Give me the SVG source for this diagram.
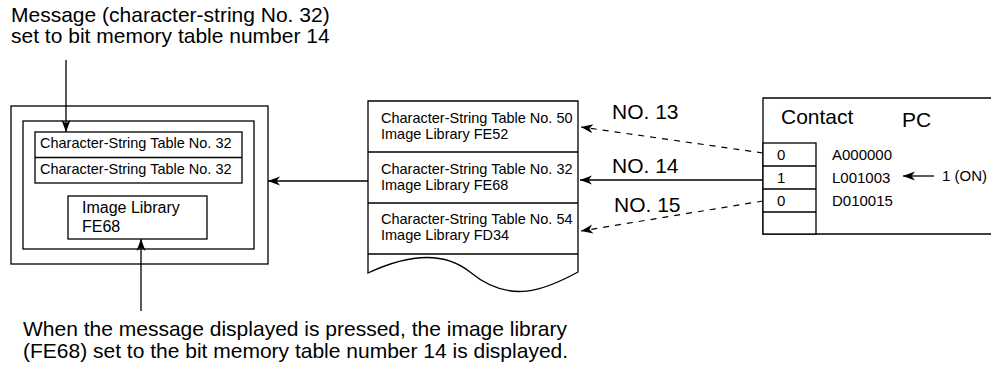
<svg xmlns="http://www.w3.org/2000/svg" width="991" height="372" viewBox="0 0 991 372">
<defs>
<marker id="ah" markerWidth="14" markerHeight="12" refX="12" refY="6" orient="auto" markerUnits="userSpaceOnUse">
<path d="M0,1.5 L12,6 L0,10.5 L3.5,6 z" fill="#000"/>
</marker>
<style>
.t{font-family:"Liberation Sans",Arial,Helvetica,sans-serif;fill:#000}
.big{font-size:21px}
.tab{font-size:14.5px}
.cell{font-size:15px}
.box{fill:#fff;stroke:#000;stroke-width:1.3}
.ln{fill:none;stroke:#000;stroke-width:1.3}
.dash{fill:none;stroke:#000;stroke-width:1.2;stroke-dasharray:6 6}
</style>
</defs>
<rect width="991" height="372" fill="#fff"/>

<g id="note-top">
<text class="t big" x="11" y="22">Message (character-string No. 32)</text>
<text class="t big" x="11" y="43">set to bit memory table number 14</text>
</g>

<g id="screen">
<rect class="box" x="11" y="106" width="257" height="158"/>
<rect class="box" x="23" y="121" width="231" height="128"/>
<rect class="box" x="35" y="132" width="207" height="51"/>
<line class="ln" x1="35" y1="157.5" x2="242" y2="157.5"/>
<text class="t tab" x="40" y="148">Character-String Table No. 32</text>
<text class="t tab" x="40" y="173.5">Character-String Table No. 32</text>
<rect class="box" x="68" y="196" width="139" height="43"/>
<text class="t" style="font-size:16px" x="82" y="213">Image Library</text>
<text class="t" style="font-size:16px" x="82" y="232">FE68</text>
</g>

<g id="table">
<path class="box" d="M368,101 H578 V272 C545,290 510,305 470,272 C440,248 400,258 368,273 Z"/>
<line class="ln" x1="368" y1="152" x2="578" y2="152"/>
<line class="ln" x1="368" y1="203" x2="578" y2="203"/>
<line class="ln" x1="368" y1="254" x2="578" y2="254"/>
<text class="t tab" x="381" y="123">Character-String Table No. 50</text>
<text class="t tab" x="381" y="139">Image Library FE52</text>
<text class="t tab" x="381" y="174">Character-String Table No. 32</text>
<text class="t tab" x="381" y="190">Image Library FE68</text>
<text class="t tab" x="381" y="224">Character-String Table No. 54</text>
<text class="t tab" x="381" y="240">Image Library FD34</text>
</g>

<g id="pc">
<path class="ln" d="M1000,98 H763 V234 H1000"/>
<rect class="box" x="763" y="143" width="53" height="91"/>
<line class="ln" x1="763" y1="166" x2="816" y2="166"/>
<line class="ln" x1="763" y1="189" x2="816" y2="189"/>
<line class="ln" x1="763" y1="212" x2="816" y2="212"/>
<text class="t big" x="781" y="124">Contact</text>
<text class="t big" x="902" y="127">PC</text>
<text class="t cell" x="777" y="160">0</text>
<text class="t cell" x="777" y="183">1</text>
<text class="t cell" x="777" y="206">0</text>
<text class="t cell" x="832" y="160">A000000</text>
<text class="t cell" x="832" y="183">L001003</text>
<text class="t cell" x="832" y="206">D010015</text>
<text class="t cell" x="942" y="181">1 (ON)</text>
</g>

<g id="labels">
<text class="t big" x="612" y="119">NO. 13</text>
<text class="t big" x="612" y="173">NO. 14</text>
<text class="t big" x="614" y="212">NO. 15</text>
</g>

<g id="note-bottom">
<text class="t big" x="23" y="336">When the message displayed is pressed, the image library</text>
<text class="t big" x="23" y="358">(FE68) set to the bit memory table number 14 is displayed.</text>
</g>

<g id="connectors">
<line class="ln" x1="66" y1="60" x2="66" y2="132" marker-end="url(#ah)"/>
<line class="ln" x1="141" y1="311" x2="141" y2="239" marker-end="url(#ah)"/>
<line class="ln" x1="368" y1="181" x2="268" y2="181" marker-end="url(#ah)"/>
<line class="dash" x1="763" y1="153" x2="581" y2="127" marker-end="url(#ah)"/>
<line class="ln" x1="763" y1="180" x2="580" y2="180" marker-end="url(#ah)"/>
<line class="dash" x1="763" y1="201" x2="581" y2="231" marker-end="url(#ah)"/>
<line class="ln" x1="934" y1="176" x2="903" y2="176" marker-end="url(#ah)"/>
</g>
</svg>
